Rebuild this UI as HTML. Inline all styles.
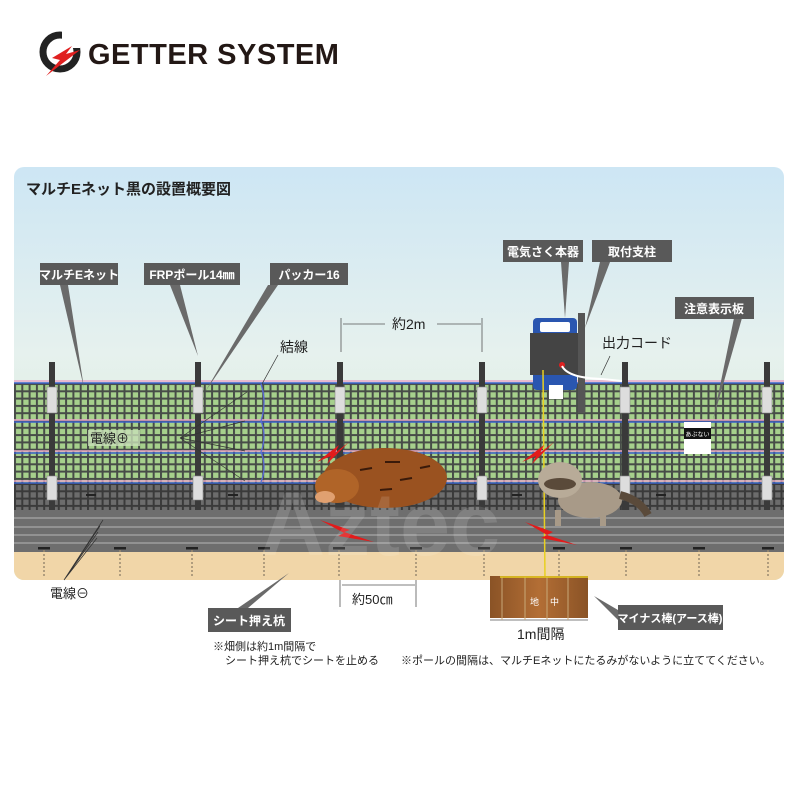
<!DOCTYPE html>
<html><head><meta charset="utf-8"><style>
body{margin:0;background:#fff;width:800px;height:800px;overflow:hidden;font-family:"Liberation Sans","Noto Sans CJK JP",sans-serif}
</style></head><body>
<svg width="800" height="800" viewBox="0 0 800 800" xmlns="http://www.w3.org/2000/svg" font-family="Liberation Sans, Noto Sans CJK JP, sans-serif">
<defs>
<linearGradient id="sky" x1="0" y1="0" x2="0" y2="1">
<stop offset="0" stop-color="#cde6f4"/><stop offset="0.45" stop-color="#e6f1ee"/><stop offset="1" stop-color="#d2ebc8"/></linearGradient>
<pattern id="mesh" width="7.3" height="7.3" patternUnits="userSpaceOnUse" x="14" y="383">
<rect width="7.3" height="7.3" fill="#a6d08c"/><rect width="7.3" height="2" fill="#474c48"/><rect width="2" height="7.3" fill="#474c48"/></pattern>
<pattern id="mesh2" width="7.3" height="7.3" patternUnits="userSpaceOnUse" x="14" y="483">
<rect width="7.3" height="7.3" fill="#6c6c6c"/><rect width="7.3" height="2" fill="#3a3a3a"/><rect width="2" height="7.3" fill="#3a3a3a"/></pattern>
<linearGradient id="soil" x1="0" y1="0" x2="1" y2="0"><stop offset="0" stop-color="#8a5326"/><stop offset="0.5" stop-color="#b36e35"/><stop offset="1" stop-color="#8a5326"/></linearGradient>
<clipPath id="pc"><rect x="14" y="167" width="770" height="413" rx="10"/></clipPath>
</defs>
<!-- logo -->
<circle cx="60" cy="52" r="17" fill="none" stroke="#222" stroke-width="7"/>
<rect x="62" y="30" width="18" height="18" fill="#fff"/>
<path d="M52 58 L72 46 L66 54 L80 50 L46 76 L60 60 Z" fill="#e02020"/>
<text x="88" y="64" font-size="29" font-weight="bold" fill="#231815" letter-spacing="0.5">GETTER SYSTEM</text>
<!-- panel -->
<g clip-path="url(#pc)">
<rect x="14" y="167" width="770" height="413" fill="url(#sky)"/>
<rect x="14" y="383" width="770" height="100" fill="url(#mesh)"/>
<rect x="14" y="483" width="770" height="27" fill="url(#mesh2)"/>
<rect x="14" y="510" width="770" height="42" fill="#6e6e6e"/>
<g stroke="#a8a8a8" stroke-width="1.3"><line x1="14" y1="518" x2="784" y2="518"/><line x1="14" y1="527" x2="784" y2="527"/><line x1="14" y1="535" x2="784" y2="535"/><line x1="14" y1="543" x2="784" y2="543"/></g>
<rect x="14" y="552" width="770" height="28" fill="#f1d6a8"/>
<!-- wires -->
<g stroke-width="1.6" fill="none">
<line x1="14" y1="383" x2="784" y2="383" stroke="#3a5fc8"/><line x1="14" y1="381" x2="784" y2="381" stroke="#e8a8c8"/>
<line x1="14" y1="422" x2="784" y2="422" stroke="#3a5fc8"/><line x1="14" y1="420" x2="784" y2="420" stroke="#e8a8c8"/>
<line x1="14" y1="453" x2="784" y2="453" stroke="#3a5fc8"/><line x1="14" y1="451" x2="784" y2="451" stroke="#e8a8c8"/>
<line x1="14" y1="483" x2="784" y2="483" stroke="#3a5fc8"/><line x1="14" y1="481" x2="784" y2="481" stroke="#e8a8c8"/>
</g>
<path d="M261 384 q6 18 0 37 q6 15 0 31 q6 15 0 30" stroke="#5a6ad8" stroke-width="1.3" fill="none"/>
<!-- stakes and dashes -->
<g fill="#222">
<rect x="86" y="494" width="10" height="2"/><rect x="228" y="494" width="10" height="2"/><rect x="370" y="494" width="10" height="2"/><rect x="512" y="494" width="10" height="2"/><rect x="656" y="494" width="10" height="2"/>
<rect x="38" y="547" width="12" height="2.5"/><rect x="114" y="547" width="12" height="2.5"/><rect x="186" y="547" width="12" height="2.5"/><rect x="258" y="547" width="12" height="2.5"/><rect x="333" y="547" width="12" height="2.5"/><rect x="410" y="547" width="12" height="2.5"/><rect x="478" y="547" width="12" height="2.5"/><rect x="553" y="547" width="12" height="2.5"/><rect x="620" y="547" width="12" height="2.5"/><rect x="693" y="547" width="12" height="2.5"/><rect x="762" y="547" width="12" height="2.5"/>
</g>
<g stroke="#9a8a70" stroke-width="1.5" stroke-dasharray="2 2">
<line x1="44" y1="550" x2="44" y2="576"/><line x1="120" y1="550" x2="120" y2="576"/><line x1="192" y1="550" x2="192" y2="576"/><line x1="264" y1="550" x2="264" y2="576"/><line x1="339" y1="550" x2="339" y2="576"/><line x1="416" y1="550" x2="416" y2="576"/><line x1="484" y1="550" x2="484" y2="576"/><line x1="559" y1="550" x2="559" y2="576"/><line x1="626" y1="550" x2="626" y2="576"/><line x1="699" y1="550" x2="699" y2="576"/><line x1="768" y1="550" x2="768" y2="576"/></g>
</g>
<!-- poles -->
<g>
<g id="pole"><rect x="49" y="362" width="6" height="148" fill="#3a3a3a"/><rect x="47" y="387" width="10" height="26" fill="#ddd" stroke="#888" stroke-width="0.6"/><rect x="47" y="476" width="10" height="24" fill="#ddd" stroke="#888" stroke-width="0.6"/></g>
<use href="#pole" x="146"/><use href="#pole" x="288"/><use href="#pole" x="430"/><use href="#pole" x="573"/><use href="#pole" x="715"/>
</g>
<!-- energizer -->
<rect x="578" y="313" width="7" height="100" fill="#555"/>
<rect x="533" y="318" width="44" height="72" rx="4" fill="#2a56b0"/>
<rect x="540" y="322" width="30" height="10" fill="#fff" rx="2"/>
<rect x="530" y="333" width="48" height="42" fill="#444"/>
<circle cx="562" cy="365" r="3" fill="#e02020"/>
<rect x="549" y="385" width="14" height="14" fill="#fff"/>
<path d="M562 366 q6 12 40 13 l20 2" stroke="#fff" stroke-width="2" fill="none"/>
<line x1="543" y1="370" x2="545" y2="580" stroke="#e8d020" stroke-width="1.5"/>
<!-- sign -->
<rect x="684" y="422" width="27" height="32" fill="#fff"/><rect x="684" y="428" width="27" height="11" fill="#111"/>
<text x="697.5" y="436.5" font-size="6" fill="#fff" text-anchor="middle">あぶない</text>
<!-- boar -->
<ellipse cx="385" cy="478" rx="62" ry="30" fill="#9a5220"/>
<ellipse cx="337" cy="486" rx="22" ry="17" fill="#b06428"/>
<ellipse cx="325" cy="497" rx="10" ry="6" fill="#e0a070"/>
<g stroke="#3a1a0a" stroke-width="2"><line x1="360" y1="470" x2="372" y2="468"/><line x1="385" y1="462" x2="400" y2="462"/><line x1="400" y1="480" x2="412" y2="478"/><line x1="380" y1="490" x2="392" y2="489"/><line x1="420" y1="468" x2="430" y2="466"/></g>
<!-- raccoon -->
<ellipse cx="590" cy="500" rx="32" ry="18" fill="#a89a88"/>
<ellipse cx="560" cy="480" rx="22" ry="18" fill="#b8ab98"/>
<ellipse cx="560" cy="484" rx="16" ry="6" fill="#5a4a3a"/>
<path d="M620 495 q20 5 28 20" stroke="#5a4a3a" stroke-width="8" fill="none"/>
<rect x="555" y="510" width="6" height="16" fill="#a89a88"/><rect x="600" y="510" width="6" height="16" fill="#a89a88"/>
<!-- lightning -->
<g fill="#e21b1b">
<path d="M317 462 l22-17 -4 8 14-11 -22 22 4-8z"/>
<path d="M320 520 l30 10 -6 2 30 10 -36-6 6-3z"/>
<path d="M522 462 l22-17 -4 8 14-11 -22 22 4-8z"/>
<path d="M525 522 l28 10 -6 3 30 10 -36-7 6-3z"/>
</g>
<!-- watermark -->
<text x="260" y="555" font-size="90" fill="#fff" opacity="0.12" font-weight="bold">Aztec</text>
<!-- callout lines -->
<g fill="#6a6a6a">
<path d="M60 285 L68 285 L84 388 Z"/><path d="M170 285 L180 285 L198 356 Z"/><path d="M268 285 L278 285 L205 392 Z"/>
<path d="M561 262 L569 262 L565 318 Z"/><path d="M600 262 L610 262 L585 328 Z"/><path d="M734 318 L742 318 L713 420 Z"/>
<path d="M238 608 L248 608 L289 573 Z"/><path d="M618 610 L618 620 L594 596 Z"/>
</g>
<g stroke="#333" stroke-width="0.7" fill="none">
<path d="M180 438 L247 392 M180 438 L245 421 M180 438 L245 451 M180 438 L245 481"/>
<path d="M262 384 L278 355"/><path d="M601 375 L610 356"/>
<path d="M64 580 L103 520 M64 580 L100 526 M64 580 L98 532 M64 580 L97 538"/>
</g>
<!-- label boxes -->
<g fill="#595959">
<rect x="40" y="263" width="78" height="22"/><rect x="144" y="263" width="96" height="22"/><rect x="270" y="263" width="78" height="22"/>
<rect x="503" y="240" width="80" height="22"/><rect x="592" y="240" width="80" height="22"/><rect x="675" y="297" width="79" height="22"/>
<rect x="208" y="608" width="83" height="24"/><rect x="618" y="605" width="105" height="25"/>
</g>
<g fill="#fff" font-size="12" font-weight="bold" text-anchor="middle">
<text x="79" y="279">マルチEネット</text><text x="192" y="279">FRPポール14㎜</text><text x="309" y="279">パッカー16</text>
<text x="543" y="256">電気さく本器</text><text x="632" y="256">取付支柱</text><text x="714" y="313">注意表示板</text>
<text x="249" y="625">シート押え杭</text><text x="670" y="622" font-size="11">マイナス棒(アース棒)</text>
</g>
<!-- texts -->
<text x="26" y="194" font-size="15" font-weight="bold" fill="#222">マルチEネット黒の設置概要図</text>
<text x="280" y="352" font-size="14" fill="#222">結線</text>
<rect x="88" y="430" width="52" height="16" fill="#c8e0b8" opacity="0.8"/>
<text x="90" y="443" font-size="13" fill="#222">電線⊕</text>
<text x="602" y="348" font-size="14" fill="#222">出力コード</text>
<text x="50" y="598" font-size="13" fill="#222">電線⊖</text>
<g stroke="#555" stroke-width="0.8" fill="none">
<line x1="341" y1="318" x2="341" y2="352"/><line x1="482" y1="318" x2="482" y2="352"/>
<line x1="343" y1="324" x2="385" y2="324"/><line x1="437" y1="324" x2="481" y2="324"/>
<line x1="340" y1="580" x2="340" y2="607"/><line x1="416" y1="580" x2="416" y2="607"/><line x1="342" y1="585" x2="415" y2="585"/>
<line x1="490" y1="620" x2="588" y2="620"/>
</g>
<text x="392" y="329" font-size="14" fill="#222">約2m</text>
<text x="352" y="604" font-size="13" fill="#222">約50㎝</text>
<!-- earth rods -->
<rect x="490" y="576" width="98" height="42" fill="url(#soil)"/>
<g stroke="#c8a878" stroke-width="1"><line x1="502" y1="577" x2="502" y2="620"/><line x1="525" y1="577" x2="525" y2="620"/><line x1="547" y1="577" x2="547" y2="620"/><line x1="568" y1="577" x2="568" y2="620"/></g>
<line x1="500" y1="577" x2="588" y2="577" stroke="#e8d020" stroke-width="1.5"/>
<text x="530" y="605" font-size="9" fill="#fff">地</text><text x="550" y="605" font-size="9" fill="#fff">中</text>
<text x="517" y="639" font-size="14" fill="#222">1m間隔</text>
<text x="213" y="650" font-size="11" fill="#222">※畑側は約1m間隔で</text>
<text x="225" y="664" font-size="11" fill="#222">シート押え杭でシートを止める</text>
<text x="401" y="664" font-size="11" fill="#222">※ポールの間隔は、マルチEネットにたるみがないように立ててください。</text>
</svg>
</body></html>
